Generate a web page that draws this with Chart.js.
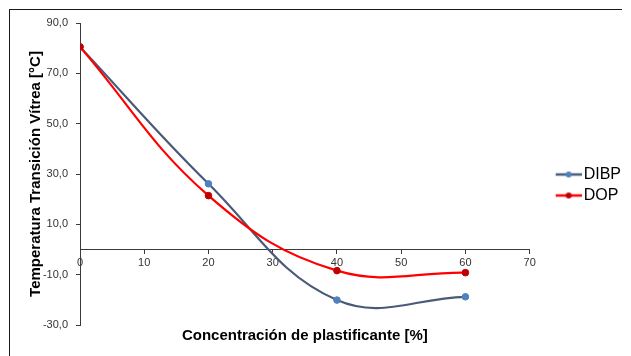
<!DOCTYPE html>
<html>
<head>
<meta charset="utf-8">
<script src="https://cdn.jsdelivr.net/npm/chart.js@4"></script>
<style>
  html, body { margin: 0; padding: 0; background: #fff; }
  #wrap { position: relative; width: 631px; height: 356px; }
  #frame { position: absolute; left: 9px; top: 9px; width: 613px; height: 347px;
           border-top: 1px solid #1a1a1a; border-left: 1px solid #1a1a1a; box-sizing: border-box; }
  #chart { position: absolute; left: 0; top: 0; }
</style>
</head>
<body>
<div id="wrap">
  <div id="frame"></div>
  <canvas id="chart" width="631" height="356"></canvas>
</div>
<script>
// Concentración de plastificante [%]
const concentrations = [0, 20, 40, 60];
// Temperatura de transición vítrea [°C]
const dibpValues = [80.5, 26.1, -20.1, -18.8];
const dopValues = [80.5, 21.4, -8.4, -9.2];
const seriesNames = ['DIBP', 'DOP'];

const FONT = 'Arial, "Liberation Sans", sans-serif';
const AXIS_COLOR = '#3a3a3a';

// legend symbol: short line with a dot, drawn at the right end of the image
function legendIcon(lineColor, dotColor) {
  const c = document.createElement('canvas');
  c.width = 53;
  c.height = 10;
  const g = c.getContext('2d');
  g.strokeStyle = lineColor;
  g.lineWidth = 2.5;
  g.beginPath();
  g.moveTo(27, 5);
  g.lineTo(53, 5);
  g.stroke();
  g.fillStyle = dotColor;
  g.beginPath();
  g.arc(40, 5, 3, 0, Math.PI * 2);
  g.fill();
  return c;
}

const icons = [legendIcon('#4a5a78', '#4f81bd'), legendIcon('#ff0000', '#c00000')];

const toPoints = vals => vals.map((v, i) => ({ x: concentrations[i], y: v }));

new Chart(document.getElementById('chart'), {
  type: 'line',
  data: {
    datasets: [
      {
        label: seriesNames[0],
        data: toPoints(dibpValues),
        borderColor: '#4a5a78',
        borderWidth: 2.2,
        pointRadius: 3.3,
        pointBackgroundColor: '#4f81bd',
        pointBorderColor: '#4f81bd',
        pointBorderWidth: 1,
        tension: 0.4,
        fill: false,
        order: 1
      },
      {
        label: seriesNames[1],
        data: toPoints(dopValues),
        borderColor: '#ff0000',
        borderWidth: 2.2,
        pointRadius: 3.3,
        pointBackgroundColor: '#c00000',
        pointBorderColor: '#c00000',
        pointBorderWidth: 1,
        tension: 0.4,
        fill: false,
        order: 0
      }
    ]
  },
  options: {
    responsive: false,
    animation: false,
    devicePixelRatio: 1,
    layout: { padding: { left: 10, top: 23, right: 0, bottom: 9 } },
    plugins: {
      tooltip: { enabled: false },
      legend: {
        position: 'right',
        labels: {
          usePointStyle: true,
          pointStyleWidth: 41,
          padding: 5,
          color: '#000',
          font: { family: FONT, size: 16 },
          sort: (a, b) => a.datasetIndex - b.datasetIndex,
          generateLabels: chart =>
            Chart.defaults.plugins.legend.labels.generateLabels(chart)
              .map(item => ({ ...item, pointStyle: icons[item.datasetIndex] }))
        }
      },
      title: {
        display: true,
        position: 'bottom',
        fullSize: false,
        text: 'Concentración de plastificante [%]',
        color: '#000',
        font: { family: FONT, size: 15, weight: 'bold' },
        padding: { top: 2, bottom: 2 }
      }
    },
    scales: {
      x: {
        type: 'linear',
        position: { y: 0 },
        min: 0,
        max: 70,
        ticks: {
          stepSize: 10,
          padding: 3,
          color: '#333',
          font: { family: FONT, size: 11 }
        },
        grid: { drawOnChartArea: false, tickLength: 4, color: AXIS_COLOR },
        border: { color: AXIS_COLOR, width: 1 }
      },
      y: {
        type: 'linear',
        min: -30,
        max: 90,
        afterFit: s => { s.width = 70; },
        ticks: {
          stepSize: 20,
          padding: 8,
          color: '#333',
          font: { family: FONT, size: 11 },
          callback: v => v.toFixed(1).replace('.', ',')
        },
        grid: { drawOnChartArea: false, tickLength: 4, color: AXIS_COLOR },
        border: { color: AXIS_COLOR, width: 1 },
        title: {
          display: true,
          text: 'Temperatura Transición Vítrea [°C]',
          color: '#000',
          font: { family: FONT, size: 15, weight: 'bold' },
          padding: { top: 17, bottom: 0 }
        }
      }
    }
  }
});
</script>
</body>
</html>
